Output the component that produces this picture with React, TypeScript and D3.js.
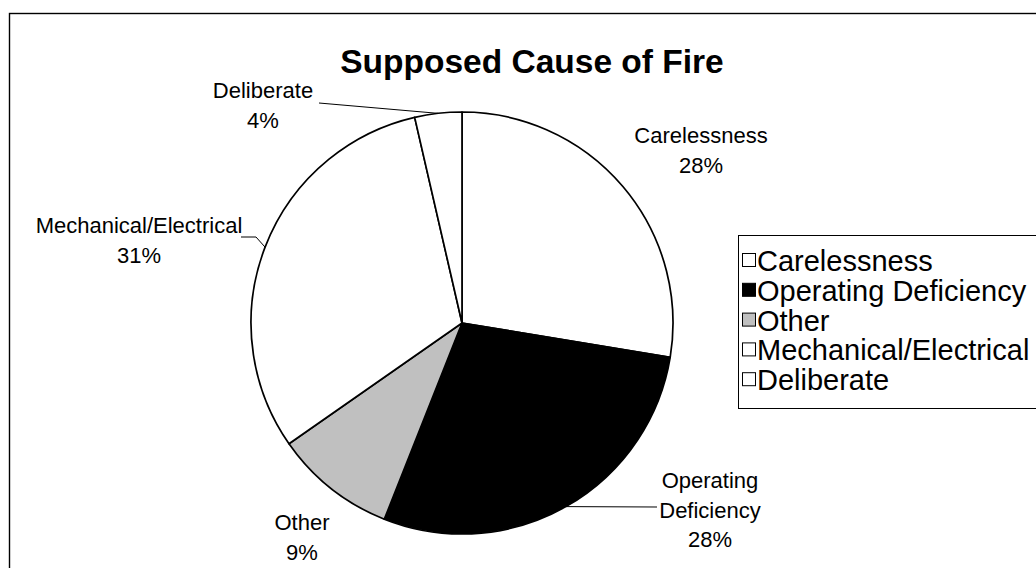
import React from "react";
import * as d3 from "d3";

const categories = ["Carelessness", "Operating Deficiency", "Other", "Mechanical/Electrical", "Deliberate"];
const values = [27.6, 28.4, 9.3, 31.1, 3.6];
const fills = ["#ffffff", "#000000", "#c0c0c0", "#ffffff", "#ffffff"];
const title = "Supposed Cause of Fire";

// label layout: lines centered at x, first baseline y
const labelLayout = [
  { x: 701, y: 143, lines: ["Carelessness"], leader: null },
  { x: 710, y: 488, lines: ["Operating", "Deficiency"], leader: [[657, 507]] },
  { x: 302, y: 530, lines: ["Other"], leader: null },
  { x: 139, y: 233, lines: ["Mechanical/Electrical"], leader: [[256, 237], [241, 237]] },
  { x: 263, y: 98, lines: ["Deliberate"], leader: [[319, 103]] },
];

const W = 1036, H = 568;
const cx = 462, cy = 323, R = 211;
const FONT = "'Liberation Sans', Arial, Helvetica, sans-serif";

export default function App() {
  const total = d3.sum(values);
  const pie = d3.pie<number>().sort(null).startAngle(0).endAngle(2 * Math.PI);
  const arcs = pie(values);
  const arcGen = d3.arc<d3.PieArcDatum<number>>().innerRadius(0).outerRadius(R);
  const lineH = 29.5;

  return (
    <svg width={W} height={H} style={{ position: "absolute", left: 0, top: 0, background: "#fff" }} fontFamily={FONT}>
      <rect x={0} y={0} width={W} height={H} fill="#fff" />
      <rect x={9.5} y={13.5} width={W + 20} height={H + 20} fill="none" stroke="#000" strokeWidth={1.4} />
      <text x={532} y={73} textAnchor="middle" fontSize={33.5} fontWeight="bold">{title}</text>
      <g transform={`translate(${cx},${cy})`}>
        {arcs.map((a, i) => (
          <path key={i} d={arcGen(a) || ""} fill={fills[i]} stroke="#000" strokeWidth={1.7} strokeLinejoin="round" />
        ))}
      </g>
      {arcs.map((a, i) => {
        const L = labelLayout[i];
        const mid = (a.startAngle + a.endAngle) / 2;
        const ex = cx + R * Math.sin(mid);
        const ey = cy - R * Math.cos(mid);
        const pct = Math.round((values[i] / total) * 100) + "%";
        const lines = [...L.lines, pct];
        return (
          <g key={"l" + i}>
            {L.leader && (
              <polyline
                points={[[ex, ey], ...L.leader].map((p) => p.join(",")).join(" ")}
                fill="none"
                stroke="#000"
                strokeWidth={1}
              />
            )}
            {lines.map((t, j) => (
              <text key={j} x={L.x} y={L.y + j * lineH} textAnchor="middle" fontSize={22} fill="#000">
                {t}
              </text>
            ))}
          </g>
        );
      })}
      <g>
        <rect x={738.5} y={235.5} width={400} height={173} fill="#fff" stroke="#000" strokeWidth={1} />
        {categories.map((c, i) => (
          <g key={"lg" + i} transform={`translate(742.5,${261 + i * 29.8})`}>
            <rect x={0} y={-7.5} width={13} height={13} fill={fills[i]} stroke="#000" strokeWidth={1} />
            <text x={14.5} y={10} fontSize={29} fill="#000">{c}</text>
          </g>
        ))}
      </g>
    </svg>
  );
}
